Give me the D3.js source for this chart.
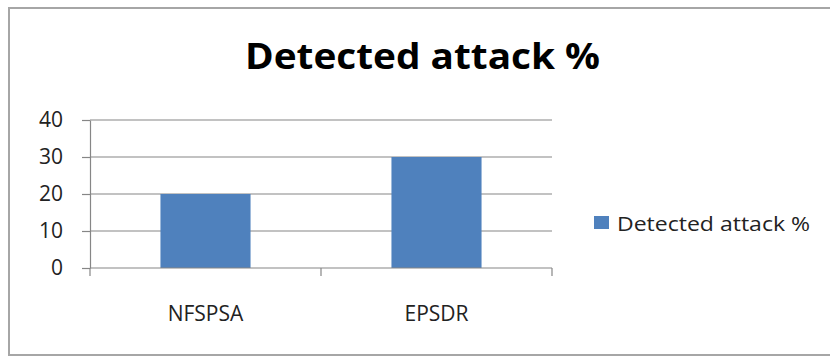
<!DOCTYPE html>
<html>
<head>
<meta charset="utf-8">
<script src="https://cdn.jsdelivr.net/npm/d3@7"></script>
<style>
  body { margin: 0; background: #fff; }
  svg { display: block; font-family: "Open Sans", "Liberation Sans", sans-serif; }
</style>
</head>
<body>
<div id="chart"></div>
<script>
const categories = ["NFSPSA", "EPSDR"];
const detected = [20, 30];
const yTicks = [0, 10, 20, 30, 40];
const seriesName = "Detected attack %";

const width = 830, height = 356;
const margin = { top: 120, right: 278, bottom: 88, left: 90 };
const w = width - margin.left - margin.right;
const h = height - margin.top - margin.bottom;

const svg = d3.select("#chart").append("svg")
  .attr("width", width)
  .attr("height", height);

// outer frame
svg.append("rect")
  .attr("x", 9).attr("y", 8)
  .attr("width", 840).attr("height", 347)
  .attr("fill", "none")
  .attr("stroke", "#a6a6a6")
  .attr("stroke-width", 2);

svg.append("text")
  .attr("x", 245).attr("y", 69)
  .attr("font-size", 36)
  .attr("font-weight", "bold")
  .attr("fill", "#000")
  .attr("textLength", 355)
  .attr("lengthAdjust", "spacingAndGlyphs")
  .text("Detected attack %");

const x = d3.scaleBand().domain(categories).range([0, w])
  .paddingInner(0.61).paddingOuter(0.305);
const y = d3.scaleLinear().domain([0, 40]).range([h, 0]);

const g = svg.append("g").attr("transform", "translate(" + margin.left + "," + margin.top + ")");

// gridlines
g.selectAll(".grid")
  .data(yTicks.filter(d => d > 0))
  .enter().append("line")
  .attr("x1", 0).attr("x2", w)
  .attr("y1", d => y(d)).attr("y2", d => y(d))
  .attr("stroke", "#868686")
  .attr("stroke-width", 1.2);

g.selectAll(".bar")
  .data(categories)
  .enter().append("rect")
  .attr("x", d => x(d))
  .attr("y", (d, i) => y(detected[i]))
  .attr("width", x.bandwidth())
  .attr("height", (d, i) => h - y(detected[i]))
  .attr("fill", "#4f81bd");

// y axis
const yAxis = g.append("g")
  .call(d3.axisLeft(y).tickValues(yTicks).tickSize(8).tickSizeOuter(0).tickPadding(19));
yAxis.select(".domain").attr("stroke", "#868686").attr("stroke-width", 1.2);
yAxis.selectAll(".tick line").attr("stroke", "#868686").attr("stroke-width", 1.2);
yAxis.selectAll("text").attr("font-size", 21).attr("fill", "#222")
  .attr("font-family", "Open Sans, sans-serif");

// x axis with ticks at category boundaries
const step = x.step();
const xg = g.append("g").attr("transform", "translate(0," + h + ")");
xg.append("line").attr("x1", 0).attr("x2", w)
  .attr("stroke", "#868686").attr("stroke-width", 1.2);
xg.selectAll(".xt")
  .data(d3.range(categories.length + 1))
  .enter().append("line")
  .attr("x1", i => i * step).attr("x2", i => i * step)
  .attr("y1", 0).attr("y2", 8)
  .attr("stroke", "#868686").attr("stroke-width", 1.2);
xg.selectAll(".xl")
  .data(categories)
  .enter().append("text")
  .attr("x", d => x(d) + x.bandwidth() / 2)
  .attr("y", 53)
  .attr("text-anchor", "middle")
  .attr("font-size", 21)
  .attr("fill", "#222")
  .text(d => d);

// legend
const lg = svg.append("g").attr("transform", "translate(594,216)");
lg.append("rect").attr("width", 15).attr("height", 13).attr("fill", "#4f81bd");
lg.append("text")
  .attr("x", 23).attr("y", 15)
  .attr("font-size", 20)
  .attr("fill", "#222")
  .attr("textLength", 193)
  .attr("lengthAdjust", "spacingAndGlyphs")
  .text(seriesName);
</script>
</body>
</html>
